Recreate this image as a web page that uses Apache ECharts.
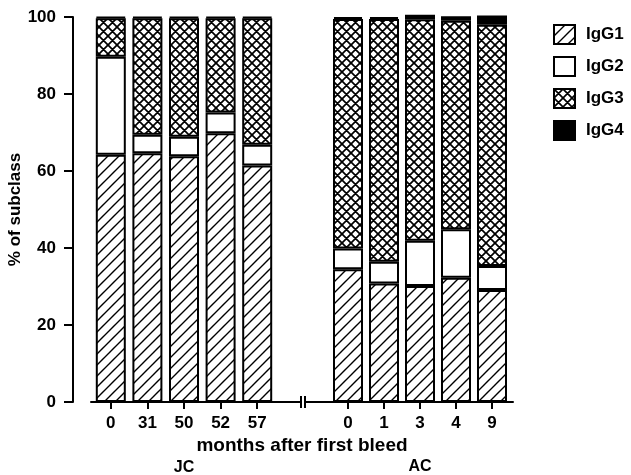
<!DOCTYPE html>
<html>
<head>
<meta charset="utf-8">
<script src="https://cdn.jsdelivr.net/npm/echarts@6/dist/echarts.min.js"></script>
<style>html,body{margin:0;padding:0;background:#fff;}#c{width:631px;height:475px;}</style>
</head>
<body>
<div id="c"></div>
<script>
// ---- data ----
const jcMonths = ['0', '31', '50', '52', '57'];
const acMonths = ['0', '1', '3', '4', '9'];
const subclasses = ['IgG1', 'IgG2', 'IgG3', 'IgG4'];
const jcIgG1 = [64.2, 64.6, 63.8, 69.8, 61.4];
const jcIgG2 = [25.5, 4.8, 5.1, 5.4, 5.4];
const jcIgG3 = [10.0, 30.3, 30.8, 24.5, 32.9];
const jcIgG4 = [0.3, 0.3, 0.3, 0.3, 0.3];
const acIgG1 = [34.5, 30.8, 30.1, 32.3, 29.1];
const acIgG2 = [5.4, 5.6, 11.8, 12.6, 6.2];
const acIgG3 = [59.6, 63.1, 57.5, 54.1, 62.7];
const acIgG4 = [0.5, 0.5, 1.2, 1.2, 2.4];
const yTicks = [0, 20, 40, 60, 80, 100];
const xTitle = 'months after first bleed';
const yTitle = '% of subclass';
const groupNames = ['JC', 'AC'];

// ---- patterns ----
function hatch(size, lw) {
  const c = document.createElement('canvas');
  c.width = size; c.height = size;
  const g = c.getContext('2d');
  g.fillStyle = '#fff'; g.fillRect(0, 0, size, size);
  g.strokeStyle = '#000'; g.lineWidth = lw;
  g.beginPath();
  g.moveTo(-2, size + 2); g.lineTo(size + 2, -2);
  g.moveTo(-2, 2); g.lineTo(2, -2);
  g.moveTo(size - 2, size + 2); g.lineTo(size + 2, size - 2);
  g.stroke();
  return c;
}
function cross(size, lw) {
  const c = document.createElement('canvas');
  c.width = size; c.height = size;
  const g = c.getContext('2d');
  g.fillStyle = '#fff'; g.fillRect(0, 0, size, size);
  g.strokeStyle = '#000'; g.lineWidth = lw;
  g.beginPath();
  g.moveTo(-2, size + 2); g.lineTo(size + 2, -2);
  g.moveTo(-2, -2); g.lineTo(size + 2, size + 2);
  g.moveTo(-2, 2); g.lineTo(2, -2);
  g.moveTo(size - 2, size + 2); g.lineTo(size + 2, size - 2);
  g.moveTo(size - 2, -2); g.lineTo(size + 2, 2);
  g.moveTo(-2, size - 2); g.lineTo(2, size + 2);
  g.stroke();
  return c;
}
const fills = [
  { image: hatch(11, 1.4), repeat: 'repeat' },
  '#ffffff',
  { image: cross(9, 1.7), repeat: 'repeat' },
  '#000000'
];

const FONT = 'Liberation Sans, Arial, Helvetica, sans-serif';
const lbl = { color: '#000', fontFamily: FONT, fontWeight: 'bold', fontSize: 17 };

const jcData = [jcIgG1, jcIgG2, jcIgG3, jcIgG4];
const acData = [acIgG1, acIgG2, acIgG3, acIgG4];

const series = [];
[jcData, acData].forEach((grp, gi) => {
  grp.forEach((vals, si) => {
    series.push({
      name: subclasses[si],
      type: 'bar',
      stack: gi === 0 ? 'jc' : 'ac',
      xAxisIndex: gi,
      yAxisIndex: gi,
      barWidth: 30,
      clip: false,
      silent: true,
      itemStyle: { color: fills[si], borderColor: '#000', borderWidth: 2 },
      data: vals
    });
  });
});

const chart = echarts.init(document.getElementById('c'), null, { renderer: 'canvas' });
const catAxis = (cats, gi) => ({
  type: 'category', gridIndex: gi, data: cats,
  axisLine: { show: false },
  axisTick: { show: true, alignWithLabel: true, length: 7, lineStyle: { color: '#000', width: 2 } },
  axisLabel: Object.assign({ margin: 13 }, lbl),
  splitLine: { show: false }
});
const lineAxis = (gi) => ({
  type: 'value', gridIndex: gi, min: 0, max: 1,
  axisLine: { show: true, lineStyle: { color: '#000', width: 2 } },
  axisTick: { show: false }, axisLabel: { show: false }, splitLine: { show: false }
});
const hiddenY = (gi) => ({ type: 'value', gridIndex: gi, min: 0, max: 100, show: false, splitLine: { show: false } });

chart.setOption({
  animation: false,
  backgroundColor: '#fff',
  grid: [
    { left: 92.5, width: 183, top: 17, bottom: 73 },
    { left: 330, width: 180, top: 17, bottom: 73 },
    { left: 91, width: 210, top: 17, bottom: 73 },
    { left: 305, width: 208, top: 17, bottom: 73 }
  ],
  legend: {
    data: subclasses,
    orient: 'vertical',
    left: 548, top: 19,
    itemWidth: 21, itemHeight: 19, itemGap: 11,
    icon: 'rect',
    selectedMode: false,
    formatter: '{t|{name}}',
    textStyle: Object.assign({ lineHeight: 19, rich: { t: Object.assign({ padding: [0, 0, 0, 6], lineHeight: 19 }, lbl) } }, lbl)
  },
  xAxis: [catAxis(jcMonths, 0), catAxis(acMonths, 1), lineAxis(2), lineAxis(3)],
  yAxis: [
    {
      type: 'value', gridIndex: 0, min: yTicks[0], max: yTicks[yTicks.length - 1],
      interval: yTicks[1] - yTicks[0],
      position: 'left', offset: 19.5,
      name: yTitle, nameLocation: 'middle', nameRotate: 90, nameGap: 47,
      nameTextStyle: lbl,
      axisLine: { show: true, lineStyle: { color: '#000', width: 2 } },
      axisTick: { show: true, length: 9, lineStyle: { color: '#000', width: 2 } },
      axisLabel: Object.assign({ margin: 17 }, lbl),
      splitLine: { show: false }
    },
    hiddenY(1), hiddenY(2), hiddenY(3)
  ],
  graphic: [
    { type: 'line', shape: { x1: 301, y1: 396, x2: 301, y2: 408 }, style: { stroke: '#000', lineWidth: 2 } },
    { type: 'line', shape: { x1: 305, y1: 396, x2: 305, y2: 408 }, style: { stroke: '#000', lineWidth: 2 } },
    { type: 'text', x: 302, y: 446, style: { text: xTitle, textAlign: 'center', textVerticalAlign: 'middle', font: 'bold 19px ' + FONT, fill: '#000' } },
    { type: 'text', x: 184, y: 468, style: { text: groupNames[0], textAlign: 'center', textVerticalAlign: 'middle', font: 'bold 16px ' + FONT, fill: '#000' } },
    { type: 'text', x: 420, y: 467, style: { text: groupNames[1], textAlign: 'center', textVerticalAlign: 'middle', font: 'bold 16px ' + FONT, fill: '#000' } }
  ],
  series: series
});
</script>
</body>
</html>
